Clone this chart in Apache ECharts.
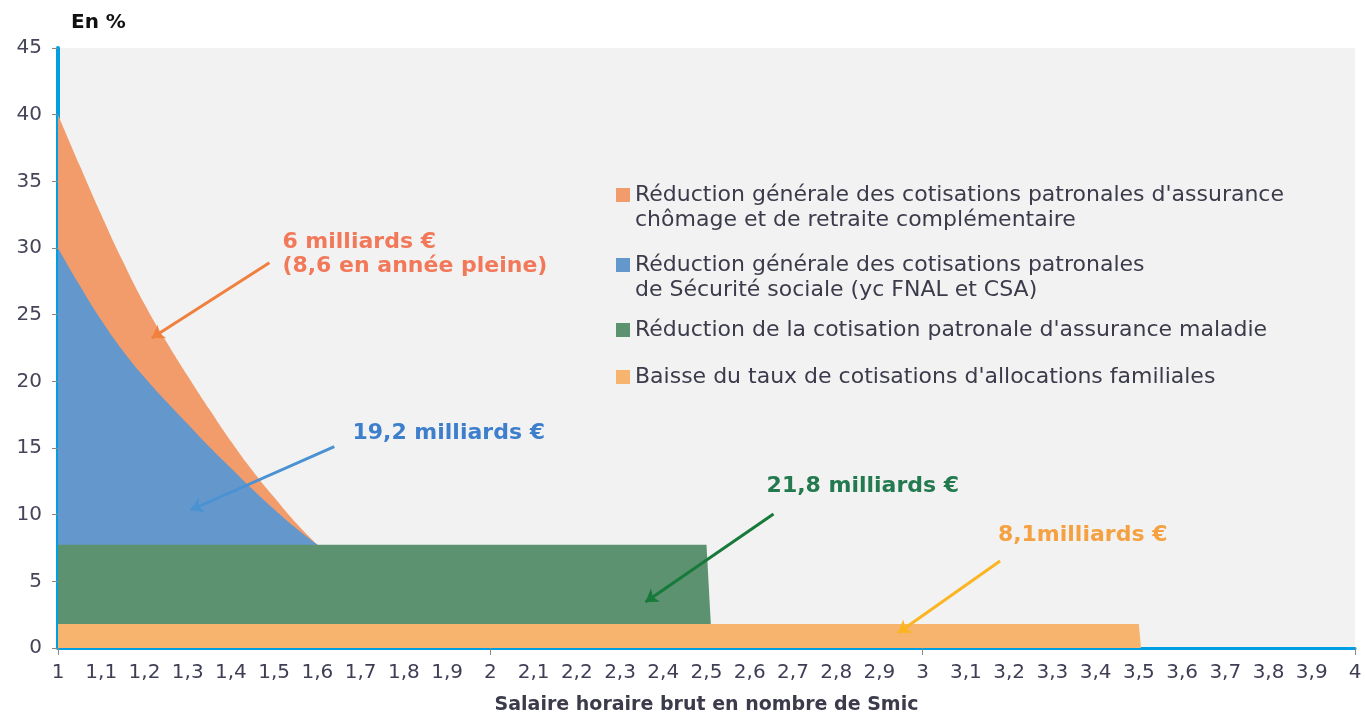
<!DOCTYPE html>
<html>
<head>
<meta charset="utf-8">
<script src="https://cdn.jsdelivr.net/npm/echarts@6/dist/echarts.min.js"></script>
<style>
  html, body { margin: 0; padding: 0; background: #fff; }
  #chart { width: 1365px; height: 713px; }
</style>
</head>
<body>
<div id="chart"></div>
<script>
// abscisses des courbes (salaire en nombre de Smic)
const curveX = [1, 1.05, 1.1, 1.15, 1.2, 1.25, 1.3, 1.35, 1.4, 1.45, 1.5, 1.55, 1.6];
// haut de chaque bande (en %)
const chomageTop = [40, 36.2, 32.5, 29.0, 25.8, 23.0, 20.4, 17.9, 15.5, 13.3, 11.3, 9.4, 7.75];
const secuTop = [30, 27.2, 24.6, 22.3, 20.3, 18.5, 16.8, 15.1, 13.5, 11.9, 10.4, 9.0, 7.75];
const maladieX = [1, 2.5, 2.51];
const maladieTop = [7.75, 7.75, 1.8];
const familleX = [1, 3.5, 3.505];
const familleTop = [1.8, 1.8, 0];

const seriesNames = [
  "Réduction générale des cotisations patronales d'assurance chômage et de retraite complémentaire",
  "Réduction générale des cotisations patronales de Sécurité sociale (yc FNAL et CSA)",
  "Réduction de la cotisation patronale d'assurance maladie",
  "Baisse du taux de cotisations d'allocations familiales"
];
const legendLines = [
  ["Réduction générale des cotisations patronales d'assurance", "chômage et de retraite complémentaire"],
  ["Réduction générale des cotisations patronales", "de Sécurité sociale (yc FNAL et CSA)"],
  ["Réduction de la cotisation patronale d'assurance maladie"],
  ["Baisse du taux de cotisations d'allocations familiales"]
];
const colors = ["#f39c6b", "#6497cc", "#5c9270", "#f7b46e"];

// annotations : texte, point d'ancrage du texte, flèche (départ, pointe)
const notes = [
  { text: "6 milliards €\n(8,6 en année pleine)", at: [1.519, 29.5], from: [1.489, 28.9], to: [1.217, 23.25], color: "#f2785a", arrow: "#f0803e" },
  { text: "19,2 milliards €", at: [1.681, 16.1], from: [1.639, 15.1], to: [1.307, 10.35], color: "#3d7fcc", arrow: "#4a92d2" },
  { text: "21,8 milliards €", at: [2.639, 12.15], from: [2.655, 10.05], to: [2.359, 3.45], color: "#237a4e", arrow: "#17793a" },
  { text: "8,1milliards €", at: [3.174, 8.45], from: [3.179, 6.53], to: [2.943, 1.12], color: "#f5a142", arrow: "#fbb522" }
];

const font = "DejaVu Sans";

function zip(xs, ys) {
  return xs.map((x, i) => [x, ys[i]]);
}

function noteMarks(n) {
  return {
    markLine: {
      silent: true,
      symbol: ["none", "arrow"],
      symbolSize: 12,
      label: { show: false },
      lineStyle: { color: n.arrow, width: 3, type: "solid" },
      data: [[{ coord: n.from }, { coord: n.to }]]
    },
    markPoint: {
      silent: true,
      symbol: "circle",
      symbolSize: 0,
      data: [{ coord: n.at }],
      label: {
        show: true,
        position: [0, 0],
        align: "left",
        verticalAlign: "middle",
        formatter: n.text,
        color: n.color,
        fontFamily: font,
        fontWeight: "bold",
        fontSize: 22,
        lineHeight: 24
      }
    }
  };
}

function areaSeries(i, data, smooth) {
  return Object.assign({
    name: seriesNames[i],
    type: "line",
    data: data,
    smooth: smooth,
    showSymbol: false,
    symbol: "none",
    lineStyle: { width: 0 },
    areaStyle: { color: colors[i], opacity: 1 },
    itemStyle: { color: colors[i] },
    silent: true
  }, noteMarks(notes[i]));
}

// une légende par poste pour caler chaque carré sur la première ligne du texte
const legendCenters = [195, 265, 330, 377];
const legends = legendLines.map((lines, i) => {
  const text = lines.length > 1 ? "\n" + lines.join("\n") : lines[0];
  const half = lines.length > 1 ? 37.5 : 12.5;
  return {
    data: [seriesNames[i]],
    left: 616,
    top: legendCenters[i] - half,
    padding: 0,
    icon: "rect",
    itemWidth: 14,
    itemHeight: 14,
    selectedMode: false,
    formatter: () => text,
    textStyle: { fontFamily: font, fontSize: 22, lineHeight: 25, color: "#3b3b4b" }
  };
});

const chart = echarts.init(document.getElementById("chart"));
chart.setOption({
  animation: false,
  title: {
    text: "En %",
    left: 66,
    top: 8,
    textStyle: { fontFamily: font, fontSize: 20, fontWeight: "bold", color: "#111" }
  },
  legend: legends,
  grid: {
    left: 58, right: 10, top: 48, bottom: 65,
    outerBoundsMode: "none",
    show: true, backgroundColor: "#f2f2f2", borderWidth: 0
  },
  xAxis: [{
    type: "value",
    min: 1, max: 4, interval: 0.1,
    name: "Salaire horaire brut en nombre de Smic",
    nameLocation: "middle",
    nameGap: 48,
    nameTextStyle: { fontFamily: font, fontSize: 19, fontWeight: "bold", color: "#3b3b4b" },
    axisLine: { show: true, onZero: false, lineStyle: { color: "#009fe3", width: 3 } },
    axisTick: { show: false },
    splitLine: { show: false },
    axisLabel: {
      margin: 15,
      fontFamily: font, fontSize: 20, color: "#3e3e55",
      formatter: v => String(Math.round(v * 10) / 10).replace(".", ",")
    }
  }, {
    // petites graduations aux valeurs entières
    type: "value",
    position: "bottom",
    min: 1, max: 4, interval: 1,
    axisLine: { show: false },
    axisLabel: { show: false },
    splitLine: { show: false },
    axisTick: { show: true, length: 7, lineStyle: { color: "#888", width: 1 } }
  }],
  yAxis: {
    type: "value",
    min: 0, max: 45, interval: 5,
    axisLine: { show: true, lineStyle: { color: "#009fe3", width: 4 } },
    axisTick: { show: true, length: 6, lineStyle: { color: "#888", width: 1 } },
    splitLine: { show: false },
    axisLabel: { margin: 16, fontFamily: font, fontSize: 20, color: "#45455a" }
  },
  series: [
    areaSeries(0, zip(curveX, chomageTop), true),
    areaSeries(1, zip(curveX, secuTop), true),
    areaSeries(2, zip(maladieX, maladieTop), false),
    areaSeries(3, zip(familleX, familleTop), false)
  ]
});
</script>
</body>
</html>
